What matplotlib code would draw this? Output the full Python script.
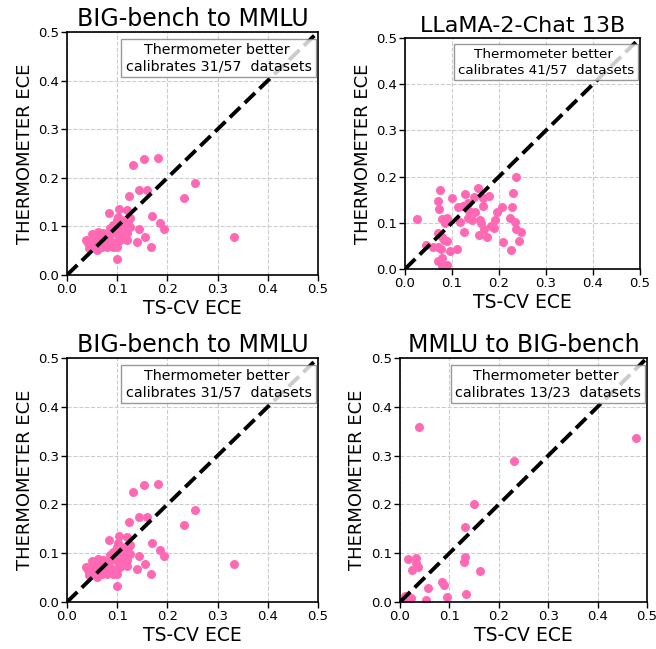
import numpy as np
import matplotlib
matplotlib.use("Agg")
from matplotlib import pyplot as plt

# BIG-bench -> MMLU (57 datasets)
bb_ts = [0.132, 0.154, 0.181, 0.254, 0.233, 0.143, 0.160, 0.124, 0.104, 0.084,
         0.120, 0.169, 0.185, 0.194, 0.143, 0.156, 0.139, 0.167, 0.332, 0.099,
         0.100, 0.037, 0.049, 0.061, 0.044, 0.056, 0.059, 0.069, 0.076, 0.082,
         0.089, 0.092, 0.098, 0.102, 0.109, 0.116, 0.122, 0.125, 0.119, 0.106,
         0.096, 0.086, 0.111, 0.116, 0.125, 0.079, 0.066, 0.052, 0.072, 0.099,
         0.108, 0.091, 0.062, 0.119, 0.042, 0.086, 0.102]
bb_th = [0.226, 0.239, 0.241, 0.189, 0.158, 0.174, 0.174, 0.163, 0.136, 0.128,
         0.134, 0.121, 0.106, 0.094, 0.095, 0.078, 0.067, 0.058, 0.078, 0.032,
         0.058, 0.072, 0.084, 0.088, 0.055, 0.065, 0.051, 0.058, 0.069, 0.079,
         0.089, 0.103, 0.093, 0.082, 0.089, 0.099, 0.110, 0.099, 0.086, 0.072,
         0.065, 0.072, 0.079, 0.113, 0.117, 0.058, 0.079, 0.075, 0.086, 0.113,
         0.101, 0.058, 0.069, 0.073, 0.065, 0.096, 0.120]

# LLaMA-2-Chat 13B (57 datasets)
ll_ts = [0.026, 0.074, 0.070, 0.073, 0.078, 0.089, 0.101, 0.118, 0.128, 0.125,
         0.124, 0.133, 0.136, 0.133, 0.147, 0.155, 0.165, 0.179, 0.167, 0.160,
         0.162, 0.169, 0.158, 0.175, 0.183, 0.189, 0.196, 0.206, 0.209, 0.226,
         0.223, 0.228, 0.230, 0.237, 0.234, 0.236, 0.247, 0.243, 0.044, 0.060,
         0.070, 0.077, 0.070, 0.078, 0.084, 0.089, 0.095, 0.111, 0.079, 0.070,
         0.078, 0.089, 0.113, 0.149, 0.142, 0.085, 0.191]
ll_th = [0.108, 0.170, 0.148, 0.130, 0.108, 0.110, 0.153, 0.102, 0.162, 0.081,
         0.136, 0.142, 0.126, 0.110, 0.155, 0.176, 0.153, 0.157, 0.136, 0.106,
         0.100, 0.087, 0.073, 0.070, 0.093, 0.088, 0.123, 0.135, 0.058, 0.041,
         0.110, 0.135, 0.165, 0.200, 0.102, 0.087, 0.081, 0.061, 0.052, 0.048,
         0.047, 0.043, 0.079, 0.069, 0.063, 0.061, 0.038, 0.044, 0.023, 0.018,
         0.006, 0.008, 0.135, 0.124, 0.106, 0.099, 0.106]

# MMLU -> BIG-bench (23 datasets)
mm_ts = [0.038, 0.478, 0.231, 0.150, 0.132, 0.132, 0.129, 0.162, 0.016, 0.032,
         0.036, 0.025, 0.086, 0.090, 0.057, 0.133, 0.096, 0.052, 0.022, 0.010,
         0.017, 0.005, 0.032]
mm_th = [0.359, 0.337, 0.289, 0.200, 0.154, 0.093, 0.081, 0.064, 0.089, 0.090,
         0.071, 0.066, 0.041, 0.034, 0.029, 0.016, 0.010, 0.004, 0.008, 0.012,
         0.003, 0.003, 0.079]

panels = [
    # title, x, y, note, pixel box (left, top, right, bottom), title size, note size
    ("BIG-bench to MMLU", bb_ts, bb_th, "31/57", (67, 32, 318, 275), 17, 10.3),
    ("LLaMA-2-Chat 13B", ll_ts, ll_th, "41/57", (405, 38, 640, 269), 16, 9.7),
    ("BIG-bench to MMLU", bb_ts, bb_th, "31/57", (67, 358, 318, 602), 17, 10.3),
    ("MMLU to BIG-bench", mm_ts, mm_th, "13/23", (400, 358, 647, 602), 17, 10.3),
]

W, H = 656, 649
fig = plt.figure(figsize=(W / 100, H / 100), dpi=100)
ticks = np.arange(0, 0.51, 0.1)

for title, xs, ys, note, (l, t, r, b), tsize, nsize in panels:
    ax = fig.add_axes([l / W, (H - b) / H, (r - l) / W, (b - t) / H])
    ax.scatter(xs, ys, s=42, color="#ff69b4", zorder=2, linewidths=0)
    ax.plot([0, 0.5], [0, 0.5], "--", color="black", lw=2.8, zorder=3)
    ax.set_xlim(0, 0.5)
    ax.set_ylim(0, 0.5)
    ax.set_xticks(ticks)
    ax.set_yticks(ticks)
    ax.set_xticklabels(["%.1f" % v for v in ticks])
    ax.set_yticklabels(["%.1f" % v for v in ticks])
    ax.tick_params(labelsize=9.5, length=4, width=1, pad=2)
    ax.grid(True, ls="--", color="#cccccc", lw=0.8, zorder=0)
    ax.set_axisbelow(True)
    for sp in ax.spines.values():
        sp.set_linewidth(1.2)
    ax.set_title(title, fontsize=tsize, pad=4)
    ax.set_xlabel("TS-CV ECE", fontsize=13.5, labelpad=2)
    ax.set_ylabel("THERMOMETER ECE", fontsize=13, labelpad=3)
    ax.text(0.975, 0.955, "Thermometer better \ncalibrates %s  datasets" % note,
            transform=ax.transAxes, ha="right", va="top", multialignment="center",
            fontsize=nsize, zorder=5,
            bbox=dict(boxstyle="square,pad=0.3", facecolor="white",
                      edgecolor="0.5", alpha=0.8, lw=1))

fig.savefig("out.png", dpi=100)
